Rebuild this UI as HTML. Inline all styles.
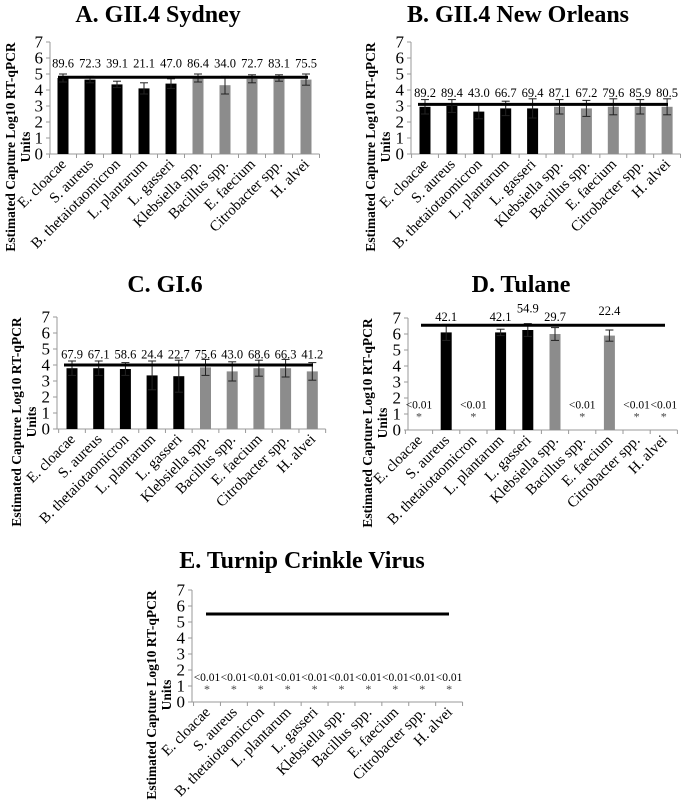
<!DOCTYPE html>
<html><head><meta charset="utf-8"><style>
html,body{margin:0;padding:0;background:#fff;}
svg,svg text{font-family:"Liberation Serif","Times New Roman",serif;}
</style></head><body>
<svg id="chart" width="681" height="801" viewBox="0 0 681 801" xmlns="http://www.w3.org/2000/svg" font-family="Liberation Serif, serif"></svg>
<script>
const categories=["E. cloacae","S. aureus","B. thetaiotaomicron","L. plantarum","L. gasseri","Klebsiella spp.","Bacillus spp.","E. faecium","Citrobacter spp.","H. alvei"];
const yTicks=[0,1,2,3,4,5,6,7];
const barColors=["#000","#000","#000","#000","#000","#8c8c8c","#8c8c8c","#8c8c8c","#8c8c8c","#8c8c8c"];
// A
const valsA=[4.75,4.65,4.35,4.1,4.4,4.75,4.3,4.7,4.75,4.65];
const errA=[0.25,0.2,0.2,0.35,0.3,0.25,0.55,0.25,0.2,0.35];
const labA=["89.6","72.3","39.1","21.1","47.0","86.4","34.0","72.7","83.1","75.5"];
const lvlA=[5.4,5.4,5.4,5.4,5.4,5.4,5.4,5.4,5.4,5.4];
const lineA=4.8;
// B
const valsB=[2.95,3.0,2.65,2.85,2.85,2.95,2.85,2.95,2.95,2.95];
const errB=[0.45,0.4,0.45,0.45,0.6,0.45,0.5,0.5,0.45,0.5];
const labB=["89.2","89.4","43.0","66.7","69.4","87.1","67.2","79.6","85.9","80.5"];
const lvlB=[3.55,3.55,3.55,3.55,3.55,3.55,3.55,3.55,3.55,3.55];
const lineB=3.1;
// C
const valsC=[3.8,3.8,3.75,3.35,3.3,3.85,3.6,3.8,3.8,3.6];
const errC=[0.45,0.45,0.4,0.9,1.0,0.5,0.6,0.5,0.55,0.55];
const labC=["67.9","67.1","58.6","24.4","22.7","75.6","43.0","68.6","66.3","41.2"];
const lvlC=[4.4,4.4,4.4,4.4,4.4,4.4,4.4,4.4,4.4,4.4];
const lineC=4.0;
// D
const valsD=[0,6.1,0,6.1,6.25,6.0,0,5.9,0,0];
const errD=[0,0.5,0,0.2,0.4,0.4,0,0.35,0,0];
const labD=["<0.01","42.1","<0.01","42.1","54.9","29.7","<0.01","22.4","<0.01","<0.01"];
const lvlD=[1.35,6.8,1.35,6.8,7.35,6.8,1.35,7.2,1.35,1.35];
const lineD=6.55;
// E
const valsE=[0,0,0,0,0,0,0,0,0,0];
const errE=[0,0,0,0,0,0,0,0,0,0];
const labE=["<0.01","<0.01","<0.01","<0.01","<0.01","<0.01","<0.01","<0.01","<0.01","<0.01"];
const lvlE=[1.3,1.3,1.3,1.3,1.3,1.3,1.3,1.3,1.3,1.3];
const lineE=5.5;

const svg=document.getElementById('chart');
const NS="http://www.w3.org/2000/svg";
function mk(tag,attrs,parent,txt){const e=document.createElementNS(NS,tag);for(const k in attrs)e.setAttribute(k,attrs[k]);if(txt!==undefined)e.textContent=txt;parent.appendChild(e);return e;}

function panel(id,title,titleX,titleY,ax,y0,firstX,step,lineX0,lineX1,ytX,vals,errs,labs,lvls,line){
  const g=mk('g',{},svg);
  
  
  const unit=16;
  const Y=v=>y0-v*unit;
  const X=i=>firstX+i*step;
  const t=mk('text',{x:titleX,y:titleY,'text-anchor':'middle','font-size':24,'font-weight':'bold'},g,title);
  
  
  const yt=mk('text',{transform:`translate(${ytX},${y0-7}) rotate(-90)`,'text-anchor':'middle','font-size':13.5,'font-weight':'bold'},g);
  
  
  mk('tspan',{x:0,y:0},yt,'Estimated Capture Log10 RT-qPCR');
  mk('tspan',{x:0,dy:15},yt,'Units');
  const right=X(9)+step/2;
  const ya=mk('line',{x1:ax,y1:Y(7),x2:ax,y2:y0,stroke:'#999','stroke-width':1},g);
  
  
  const xa=mk('line',{x1:ax,y1:y0,x2:right,y2:y0,stroke:'#999','stroke-width':1},g);
  
  
  yTicks.forEach(v=>{
    mk('line',{x1:ax-4,y1:Y(v),x2:ax,y2:Y(v),stroke:'#999'},g);
    const tl=mk('text',{x:ax-7,y:Y(v)+5.5,'text-anchor':'end','font-size':17},g,String(v));
    
    
  });
  for(let i=0;i<=10;i++){const xx=X(i)-step/2;mk('line',{x1:xx,y1:y0,x2:xx,y2:y0+4,stroke:'#999'},g);}
  categories.forEach((c,i)=>{
    const cx=X(i);
    if(vals[i]>0){
      const b=mk('rect',{x:cx-5.5,y:Y(vals[i]),width:11,height:vals[i]*unit,fill:barColors[i]},g);
      
      
    }
    if(errs[i]>0){
      const eg=mk('g',{stroke:'#222','stroke-width':1},g);
      
      
      mk('line',{x1:cx,y1:Y(vals[i]+errs[i]),x2:cx,y2:Y(vals[i]-errs[i])},eg);
      mk('line',{x1:cx-4,y1:Y(vals[i]+errs[i]),x2:cx+4,y2:Y(vals[i]+errs[i])},eg);
      mk('line',{x1:cx-4,y1:Y(vals[i]-errs[i]),x2:cx+4,y2:Y(vals[i]-errs[i])},eg);
    }
    const small=labs[i]==='<0.01';
    const vl=mk('text',{x:cx,y:Y(lvls[i]),'text-anchor':'middle','font-size':small?11.5:12.5},g,labs[i]);
    
    
    if(small){
      const st=mk('text',{x:cx,y:Y(lvls[i])+12,'text-anchor':'middle','font-size':12,fill:'#444'},g,'*');
      
      
    }
    const cl=mk('text',{transform:`translate(${cx+4},${y0+11}) rotate(-45)`,'text-anchor':'end','font-size':15},g,c);
    
    
  });
  const rl=mk('line',{x1:lineX0,y1:Y(line),x2:lineX1,y2:Y(line),stroke:'#000','stroke-width':3},g);
  
  
}
panel('a','A. GII.4 Sydney',158,22,50,154,63,27,58,308,15,valsA,errA,labA,lvlA,lineA);
panel('b','B. GII.4 New Orleans',518,22,411,154,425,26.9,418,668,375,valsB,errB,labB,lvlB,lineB);
panel('c','C. GI.6',165,292,57,429,72,26.7,64,313,21,valsC,errC,labC,lvlC,lineC);
panel('d','D. Tulane',521,292,408,430,419,27.2,421,665,372,valsD,errD,labD,lvlD,lineD);
panel('e','E. Turnip Crinkle Virus',302,568,192,702,207,26.9,206,449,156,valsE,errE,labE,lvlE,lineE);
</script>
</body></html>
